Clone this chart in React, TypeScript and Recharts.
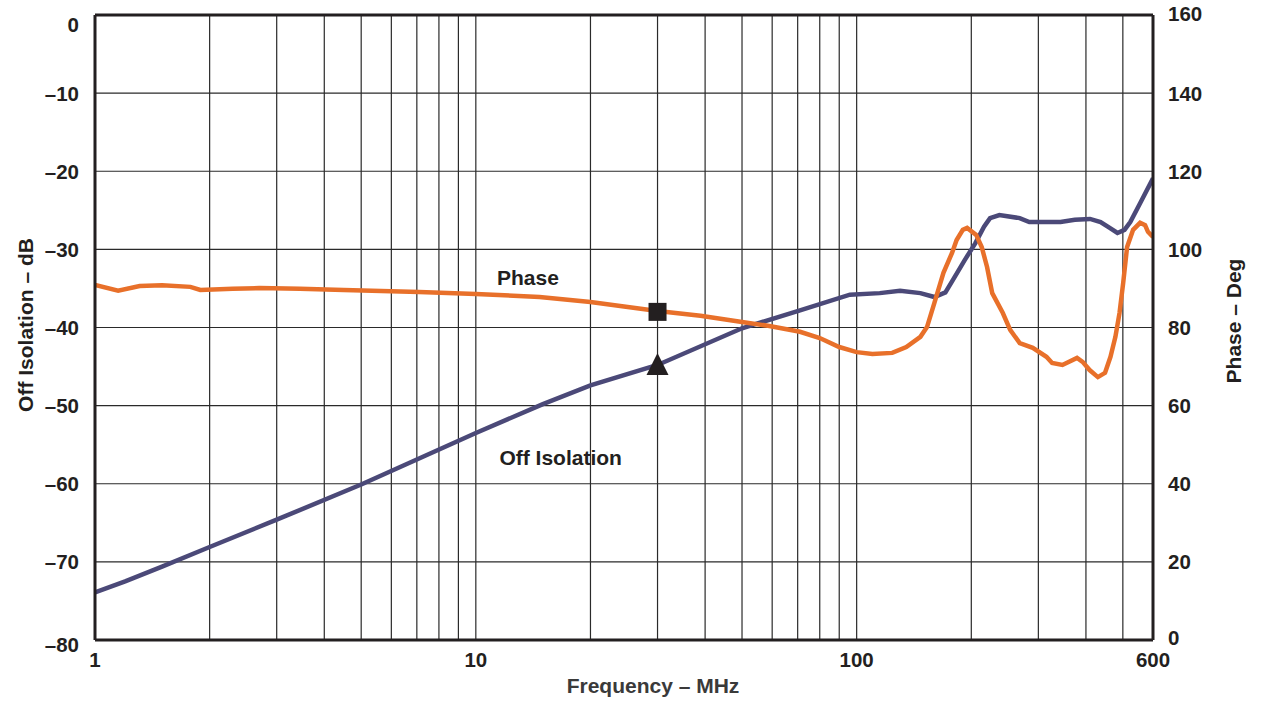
import React from 'react';
import { ComposedChart, Line, XAxis, YAxis, ReferenceLine, ReferenceDot } from 'recharts';

// ---- Data ----
const isoFreq = [1, 1.2, 1.5, 2, 3, 5, 7, 10, 15, 20, 30, 50, 71, 96, 115, 130, 147, 160, 171, 179, 192, 205, 216, 224, 237, 268, 284, 343, 374, 410, 437, 464, 484, 505, 523, 555, 600];
const isoDb = [-73.9, -72.5, -70.6, -68.1, -64.6, -60.1, -56.9, -53.5, -49.8, -47.4, -44.8, -40.1, -37.8, -35.8, -35.6, -35.3, -35.6, -36.1, -35.5, -33.9, -31.4, -29.2, -27.1, -26.0, -25.6, -26.0, -26.5, -26.5, -26.2, -26.1, -26.5, -27.3, -27.9, -27.5, -26.5, -24.1, -20.9];

const phaseFreq = [1, 1.15, 1.31, 1.5, 1.78, 1.89, 2.3, 2.7, 3.45, 4.5, 7.1, 10, 14.7, 20, 30, 38.9, 50, 59, 71, 80, 90, 100, 110, 124, 135, 147, 153, 160, 169, 178, 183, 190, 195, 206, 213, 220, 227, 242, 253, 268, 290, 315, 326, 347, 379, 392, 409, 430, 449, 464, 478, 490, 501, 513, 532, 555, 572, 582, 600];
const phaseDeg = [90.9, 89.4, 90.6, 90.8, 90.4, 89.6, 89.9, 90.1, 89.9, 89.6, 89.1, 88.6, 87.8, 86.5, 84.2, 83.0, 81.4, 80.4, 78.9, 77.3, 75.0, 73.7, 73.2, 73.5, 75.0, 77.6, 80.1, 86.3, 94.0, 99.1, 102.4, 105.0, 105.5, 103.7, 100.6, 95.5, 88.8, 83.7, 79.4, 76.0, 74.8, 72.5, 70.9, 70.4, 72.2, 71.2, 69.1, 67.3, 68.4, 72.5, 77.6, 83.7, 91.4, 100.6, 105.0, 106.8, 106.2, 104.5, 103.2];

const freqTicks = [1, 10, 100, 600];
const freqGrid = [2, 3, 4, 5, 6, 7, 8, 9, 10, 20, 30, 40, 50, 60, 70, 80, 90, 100, 200, 300, 400, 500];
const dbTicks = [-80, -70, -60, -50, -40, -30, -20, -10, 0];
const dbGrid = [-70, -60, -50, -40, -30, -20, -10];
const degTicks = [0, 20, 40, 60, 80, 100, 120, 140, 160];

const markerFreq = 30;
const markerPhase = 84;
const markerIso = -44.8;

const phaseLabel = { text: 'Phase', f: 13.7, deg: 92.9 };
const isoLabel = { text: 'Off Isolation', f: 16.7, db: -56.7 };

const isoData = isoFreq.map((f, i) => ({ f, v: isoDb[i] }));
const phaseData = phaseFreq.map((f, i) => ({ f, v: phaseDeg[i] }));

// ---- Styles ----
const FONT = '"Liberation Sans", Arial, Helvetica, sans-serif';
const INK = '#231f20';
const PURPLE = '#4b4978';
const ORANGE = '#e8702a';
const TICK_FS = 20.5;
const tickStyle = { fill: INK, fontSize: TICK_FS, fontWeight: 'bold', fontFamily: FONT };

const fmtDb = (v: number) => (v < 0 ? `\u2013${-v}` : `${v}`);

const LeftTick = (p: any) => {
  const v = p.payload.value;
  const shift = v === 0 ? 9 : v === -80 ? 4 : 0;
  return (
    <text x={p.x} y={p.y + shift} textAnchor="end" dominantBaseline="central" fill={INK}
      fontSize={TICK_FS} fontWeight="bold" fontFamily={FONT}>{fmtDb(v)}</text>
  );
};

const RightTick = (p: any) => {
  const v = p.payload.value;
  const shift = v === 160 ? -2 : v === 0 ? -3 : 0;
  return (
    <text x={p.x} y={p.y + shift} textAnchor="start" dominantBaseline="central" fill={INK}
      fontSize={TICK_FS} fontWeight="bold" fontFamily={FONT}>{v}</text>
  );
};

const textShape = (label: string) => (p: any) => (
  <text x={p.cx} y={p.cy} textAnchor="middle" dominantBaseline="central" fill={INK}
    fontSize={21} fontWeight="bold" fontFamily={FONT}>{label}</text>
);

export default function App() {
  return (
    <div style={{ position: 'absolute', left: 0, top: 0, width: 1262, height: 701, background: '#fff' }}>
      <ComposedChart width={1262} height={701} margin={{ top: 15, right: 0, bottom: 0, left: 0 }}>
        <XAxis dataKey="f" type="number" scale="log" domain={[1, 600]} allowDataOverflow
          ticks={freqTicks} tickLine={false} tickSize={0} tickMargin={12} height={61}
          axisLine={{ stroke: INK, strokeWidth: 3 }} tick={tickStyle} interval={0} />
        <YAxis yAxisId="left" orientation="left" domain={[-80, 0]} ticks={dbTicks} width={95}
          tickLine={false} tickSize={0} tickMargin={16}
          axisLine={{ stroke: INK, strokeWidth: 3 }} tick={<LeftTick />} interval={0} />
        <YAxis yAxisId="right" orientation="right" domain={[0, 160]} ticks={degTicks} width={109}
          tickLine={false} tickSize={0} tickMargin={15}
          axisLine={{ stroke: INK, strokeWidth: 3 }} tick={<RightTick />} interval={0} />

        {dbGrid.map((v) => (
          <ReferenceLine key={`h${v}`} yAxisId="left" y={v} stroke="#2a2a2a" strokeWidth={1.2} />
        ))}
        {freqGrid.map((f) => (
          <ReferenceLine key={`v${f}`} yAxisId="left" x={f} stroke="#2a2a2a" strokeWidth={1.2} />
        ))}
        <ReferenceLine yAxisId="left" y={0} stroke={INK} strokeWidth={3} />

        <Line data={isoData} dataKey="v" yAxisId="left" stroke={PURPLE} strokeWidth={4.5}
          dot={false} isAnimationActive={false} type="linear" />
        <Line data={phaseData} dataKey="v" yAxisId="right" stroke={ORANGE} strokeWidth={4.5}
          dot={false} isAnimationActive={false} type="linear" />

        <ReferenceDot yAxisId="right" x={markerFreq} y={markerPhase}
          shape={(p: any) => <rect x={p.cx - 9} y={p.cy - 9} width={18} height={18} fill={INK} />} />
        <ReferenceDot yAxisId="left" x={markerFreq} y={markerIso}
          shape={(p: any) => (
            <polygon points={`${p.cx},${p.cy - 12} ${p.cx - 11},${p.cy + 10} ${p.cx + 11},${p.cy + 10}`} fill={INK} />
          )} />

        <ReferenceDot yAxisId="right" x={phaseLabel.f} y={phaseLabel.deg} shape={textShape(phaseLabel.text)} />
        <ReferenceDot yAxisId="left" x={isoLabel.f} y={isoLabel.db} shape={textShape(isoLabel.text)} />
      </ComposedChart>
      <svg width={1262} height={701} style={{ position: 'absolute', left: 0, top: 0, pointerEvents: 'none' }}>
        <text x={25} y={325} transform="rotate(-90, 25, 325)" textAnchor="middle" dominantBaseline="central"
          fill={INK} fontSize={21} fontWeight="bold" fontFamily={FONT}>Off Isolation – dB</text>
        <text x={1233} y={321} transform="rotate(-90, 1233, 321)" textAnchor="middle" dominantBaseline="central"
          fill={INK} fontSize={21} fontWeight="bold" fontFamily={FONT}>Phase – Deg</text>
        <text x={653} y={685} textAnchor="middle" dominantBaseline="central"
          fill="#3a3a3a" fontSize={21} fontWeight="bold" fontFamily={FONT}>Frequency – MHz</text>
      </svg>
    </div>
  );
}
